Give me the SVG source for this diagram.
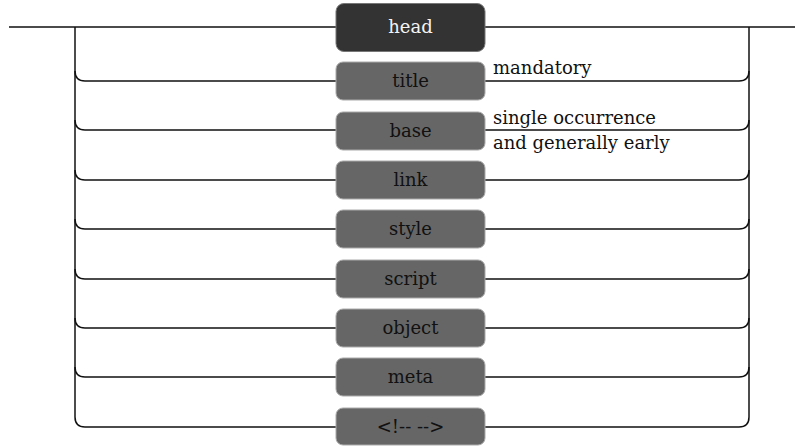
<svg xmlns="http://www.w3.org/2000/svg" width="804" height="446" viewBox="0 0 804 446">
<style>
.ln{fill:none;stroke:#111;stroke-width:1.5}
.box{fill:#666;stroke:#aaa;stroke-width:1}
.hbox{fill:#333;stroke:#777;stroke-width:1}
.t{font-family:"DejaVu Serif","Liberation Serif",serif;font-size:18px;text-anchor:middle;fill:#111}
.ht{font-family:"DejaVu Serif","Liberation Serif",serif;font-size:18px;text-anchor:middle;fill:#f4f4f4}
.c{font-family:"DejaVu Serif","Liberation Serif",serif;font-size:18px;fill:#111}
</style>
<g id="connectors">
<path class="ln" d="M9,27H336M485,27H795"/>
<path class="ln" d="M75,27V417"/>
<path class="ln" d="M749,27V417"/>
<path class="ln" d="M75,71Q75,81 85,81H336M485,81H739Q749,81 749,71"/>
<path class="ln" d="M75,120Q75,130 85,130H336M485,130H739Q749,130 749,120"/>
<path class="ln" d="M75,170Q75,180 85,180H336M485,180H739Q749,180 749,170"/>
<path class="ln" d="M75,219Q75,229 85,229H336M485,229H739Q749,229 749,219"/>
<path class="ln" d="M75,269Q75,279 85,279H336M485,279H739Q749,279 749,269"/>
<path class="ln" d="M75,318Q75,328 85,328H336M485,328H739Q749,328 749,318"/>
<path class="ln" d="M75,367Q75,377 85,377H336M485,377H739Q749,377 749,367"/>
<path class="ln" d="M75,417Q75,427 85,427H336M485,427H739Q749,427 749,417"/>
</g>
<g id="head"><rect class="hbox" x="336" y="3.5" width="149" height="48" rx="8"/><text class="ht" x="410.5" y="33">head</text></g>
<g id="title"><rect class="box" x="336" y="62" width="149" height="38" rx="7"/><text class="t" x="410.5" y="87">title</text></g>
<g id="title-note"><text class="c" x="493" y="74">mandatory</text></g>
<g id="base"><rect class="box" x="336" y="112" width="149" height="38" rx="7"/><text class="t" x="410.5" y="137">base</text></g>
<g id="base-note"><text class="c" x="493" y="124">single occurrence</text><text class="c" x="493" y="149">and generally early</text></g>
<g id="link"><rect class="box" x="336" y="161" width="149" height="38" rx="7"/><text class="t" x="410.5" y="186">link</text></g>
<g id="style"><rect class="box" x="336" y="210" width="149" height="38" rx="7"/><text class="t" x="410.5" y="235">style</text></g>
<g id="script"><rect class="box" x="336" y="260" width="149" height="38" rx="7"/><text class="t" x="410.5" y="285">script</text></g>
<g id="object"><rect class="box" x="336" y="309" width="149" height="38" rx="7"/><text class="t" x="410.5" y="334">object</text></g>
<g id="meta"><rect class="box" x="336" y="358" width="149" height="38" rx="7"/><text class="t" x="410.5" y="383">meta</text></g>
<g id="comment"><rect class="box" x="336" y="408" width="149" height="37" rx="7"/><text class="t" x="410.5" y="433">&lt;!-- --&gt;</text></g>
</svg>
